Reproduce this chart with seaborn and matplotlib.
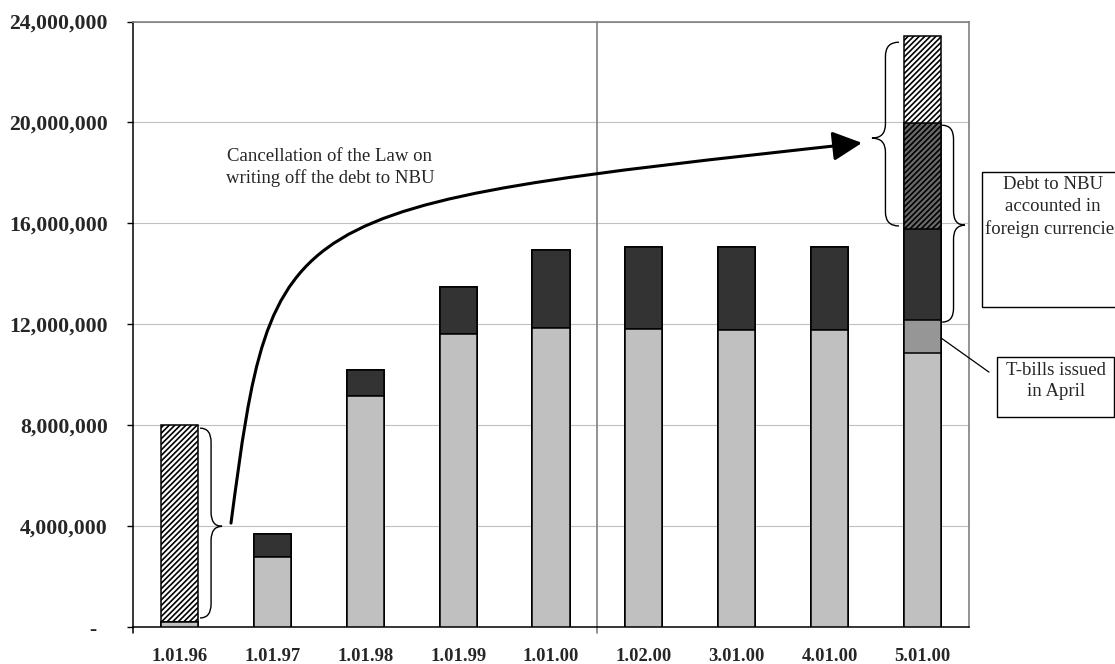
import numpy as np
import matplotlib
matplotlib.use("Agg")
import matplotlib.pyplot as plt
import matplotlib.patches as mpatches
import matplotlib.transforms as mtransforms
from matplotlib.path import Path
import seaborn as sns

# ---- data -------------------------------------------------------------
dates = ["1.01.96", "1.01.97", "1.01.98", "1.01.99", "1.01.00",
         "1.02.00", "3.01.00", "4.01.00", "5.01.00"]
tbills = [0.22e6, 2.80e6, 9.16e6, 11.60e6, 11.87e6, 11.81e6, 11.77e6, 11.77e6, 10.88e6]
tbills_april = [0, 0, 0, 0, 0, 0, 0, 0, 1.29e6]
nbu_debt = [0, 0.91e6, 1.03e6, 1.89e6, 3.07e6, 3.26e6, 3.30e6, 3.28e6, 3.60e6]
nbu_debt_fx = [0, 0, 0, 0, 0, 0, 0, 0, 4.21e6]
written_off = [7.79e6, 0, 0, 0, 0, 0, 0, 0, 3.44e6]

y_ticks = [0, 4e6, 8e6, 12e6, 16e6, 20e6, 24e6]
y_tick_labels = ["-  ", "4,000,000", "8,000,000", "12,000,000",
                 "16,000,000", "20,000,000", "24,000,000"]

arrow_text = "Cancellation of the Law on\nwriting off the debt to NBU"
fx_box_text = "Debt to NBU\naccounted in\nforeign currencies"
april_box_text = "T-bills issued\nin April"

# ---- style ------------------------------------------------------------
sns.set_theme(style="white")
plt.rcParams["font.family"] = ["Liberation Serif", "DejaVu Serif"]
plt.rcParams["hatch.linewidth"] = 1.2

W, H = 1115, 664
fig = plt.figure(figsize=(W / 100, H / 100), dpi=100)
ax = fig.add_axes([133 / W, 1 - 627.3 / H, (969 - 133) / W, (627.3 - 21.5) / H])

# ---- stacked bars, drawn as cumulative layers from the top down -------
c1 = np.array(tbills)
c2 = c1 + np.array(tbills_april)
c3 = c2 + np.array(nbu_debt)
c4 = c3 + np.array(nbu_debt_fx)
c5 = c4 + np.array(written_off)

layers = [
    (c5, "white", "//////"),
    (c4, "#6a6a6a", "//////"),
    (c3, "#333333", None),
    (c2, "#969696", None),
    (c1, "#c0c0c0", None),
]
for heights, color, hatch in layers:
    sns.barplot(x=dates, y=heights, order=dates, color=color, saturation=1,
                width=0.4, edgecolor="black", linewidth=1.1, hatch=hatch,
                errorbar=None, ax=ax, zorder=3)

ax.set_xlim(-0.5, len(dates) - 0.5)
ax.set_ylim(0, 24e6)
ax.set_xlabel("")
ax.set_ylabel("")

# ---- axes decoration --------------------------------------------------
ax.set_yticks(y_ticks)
ax.set_yticklabels(y_tick_labels, fontsize=15.7, fontweight="bold")
ax.tick_params(axis="y", left=True, length=4.3, width=1.0, pad=13.7, color="black")
ax.tick_params(axis="x", bottom=False, length=0, pad=15)
for lab in ax.get_xticklabels():
    lab.set_fontsize(13.4)
    lab.set_fontweight("bold")

ax.yaxis.grid(True, color="#c0c0c0", lw=0.8)
ax.xaxis.grid(False)
ax.set_axisbelow(True)
for side in ("top", "right"):
    ax.spines[side].set_color("#808080")
    ax.spines[side].set_linewidth(1.2)
for side in ("left", "bottom"):
    ax.spines[side].set_color("black")
    ax.spines[side].set_linewidth(1.1)

# separator between annual and monthly dates
ax.plot([4.5, 4.5], [-0.24e6, 24e6], color="#808080", lw=1.2, clip_on=False, zorder=2)
ax.plot([-0.5, -0.5], [-0.24e6, 0], color="black", lw=1.1, clip_on=False)

# ---- braces -----------------------------------------------------------
ppu_x = ax.bbox.width / len(dates)
ppu_y = ax.bbox.height / 24e6


def brace(x_base, x_tip, y0, y1, y_tip, r_px=14, lw=1.0):
    xm = (x_base + x_tip) / 2
    ry = r_px / ppu_y
    verts = [(x_base, y0), (xm, y0), (xm, y0 + ry),
             (xm, y_tip - ry), (xm, y_tip), (x_tip, y_tip),
             (xm, y_tip), (xm, y_tip + ry),
             (xm, y1 - ry), (xm, y1), (x_base, y1)]
    codes = [Path.MOVETO, Path.CURVE3, Path.CURVE3,
             Path.LINETO, Path.CURVE3, Path.CURVE3,
             Path.CURVE3, Path.CURVE3,
             Path.LINETO, Path.CURVE3, Path.CURVE3]
    ax.add_patch(mpatches.PathPatch(Path(verts, codes), fill=False, ec="black",
                                    lw=lw, clip_on=False, zorder=5))


brace(0.222, 0.459, 0.37e6, 7.89e6, 4.0e6)
brace(7.746, 7.455, 15.9e6, 23.18e6, 19.38e6)
brace(8.211, 8.456, 12.09e6, 19.89e6, 15.93e6)

# ---- curved arrow -----------------------------------------------------
p0 = (0.555, 4.13e6)
pc = (1.007, 16.64e6)
p3 = (7.348, 19.19e6)
arrow = mpatches.FancyArrowPatch(
    path=Path([p0, pc, pc, p3], [Path.MOVETO, Path.CURVE4, Path.CURVE4, Path.CURVE4]),
    arrowstyle=mpatches.ArrowStyle("-|>", head_length=18, head_width=9),
    mutation_scale=1, lw=2.2, color="black", transform=ax.transData,
    clip_on=False, zorder=6)
ax.add_patch(arrow)

ax.text(1.62, 18.22e6, arrow_text, ha="center", va="center", fontsize=13.5,
        multialignment="center", linespacing=1.35, zorder=6)

# ---- call-out boxes (figure pixel coordinates, y downward) ------------
px = mtransforms.Affine2D().scale(1 / W, -1 / H).translate(0, 1) + fig.transFigure

fig.add_artist(mpatches.Rectangle((982, 172), 200, 135, transform=px, fill=False,
                                  ec="black", lw=1.0, clip_on=False))
fig.text(1053, 207, fx_box_text, transform=px, ha="center", va="center",
         fontsize=13.5, multialignment="center", linespacing=1.35)

fig.add_artist(mpatches.Rectangle((997, 357), 117, 60, transform=px, fill=False,
                                  ec="black", lw=1.0, clip_on=False))
fig.text(1056, 381, april_box_text, transform=px, ha="center", va="center",
         fontsize=13.5, multialignment="center", linespacing=1.35)

# leader from the April T-bills segment to its box
ax.plot([8.2, 8.715], [11.46e6, 10.11e6], color="black", lw=0.9, clip_on=False, zorder=6)

fig.savefig("out.png", dpi=100)
